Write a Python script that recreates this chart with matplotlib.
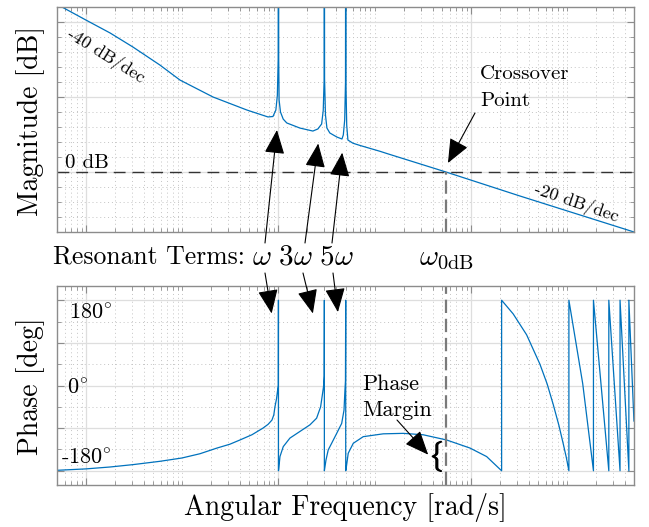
import matplotlib.pyplot as plt
import matplotlib.patheffects as pe
from matplotlib.ticker import FixedLocator, NullFormatter

plt.rcParams['font.family'] = 'cmr10'
plt.rcParams['mathtext.fontset'] = 'cm'
plt.rcParams['axes.unicode_minus'] = False

# magnitude curve (rad/s, dB)
w_mag = [0.5, 0.563, 1.0, 1.78, 3.08, 5.87, 9.48, 20.9, 47.1, 77.8, 87.7,
         94.0, 97.4, 99.4, 100, 100.6, 101.6, 105, 112, 122, 167, 228, 257, 281, 292,
         298.5, 300, 301.5, 308, 319, 342, 405, 457, 472, 488,
         497.5, 500, 502.5, 512, 527, 594, 703,
         1135, 1341, 5500, 32260, 494000]
mag_db = [112.7, 110, 101.3, 92.7, 83.3, 71.3, 61.3, 50, 41.3, 36.7, 37,
          41.3, 51, 75, 250, 75, 48, 40, 35.3, 32.7, 29.3, 27.3, 28.7, 32, 41,
          62, 250, 62, 38, 29.3, 26, 23.3, 22, 24.7, 34.7,
          60, 250, 60, 31.3, 21.3, 19.2, 17.7,
          13.8, 12.3, 0, -16, -40]

# phase curve (rad/s, deg), wrapped into +/-180
w_ph = [0.5, 1.0, 1.78, 3.08, 5.87, 9.94, 15.3, 23.0, 31.2, 39.8, 53.0, 69.0,
        78.0, 85.6, 89.5, 92.0, 95.5, 98.1, 99.8, 100,
        100, 100.5, 103.7, 112.2, 131.6, 167.2, 212.5, 249.2, 274.3, 287.7, 294, 299, 300,
        300, 301, 312, 329, 357, 403, 454, 480, 491, 497, 500,
        500, 503, 531, 599, 760, 1227, 1982, 3192, 5590, 9770, 14560, 20840,
        20840, 27500, 37900, 52100, 62000, 71600, 82000, 91000, 98000, 104200,
        104200, 145000, 187500,
        187500, 270800,
        270800, 354200,
        354200, 437500,
        437500, 494000]
phase = [-179, -176, -172, -167, -160, -153, -144, -132, -124, -115, -104, -90,
         -82, -73, -62, -45, -28, -9.5, 0, 180,
         -180, -178, -150, -129, -111, -97, -83, -69, -45, -16, -2.5, 20, 180,
         -180, -178, -157, -136, -122, -101, -80, -52, -9.5, 10, 180,
         -180, -178, -143, -122, -108, -102, -101, -104, -115, -132, -150, -180,
         180, 151, 107, 45, 3, -40, -84, -123, -152, -180,
         180, 4, -180,
         180, -180,
         180, -180,
         180, -180,
         180, -75]

w_c = 5500          # crossover frequency
pm_brace = 4385     # where the phase margin brace sits

x_major = [1, 1e2, 1e4]
x_minor = [k * 10.0**n for n in range(-1, 6) for k in range(1, 10)
           if k * 10.0**n not in x_major and 0.5 <= k * 10.0**n <= 5e5]

blue = '#0072BD'
box = '#8c8c8c'

fig = plt.figure(figsize=(6.49, 5.27), dpi=100)
ax1 = fig.add_axes([0.0878, 0.5598, 0.889, 0.4269])
ax2 = fig.add_axes([0.0878, 0.0797, 0.889, 0.3776])


def px(x, y):
    return (x / 649, 1 - y / 527)


for ax in (ax1, ax2):
    ax.set_xscale('log')
    ax.set_xlim(0.5, 4.94e5)
    ax.xaxis.set_major_locator(FixedLocator(x_major))
    ax.xaxis.set_minor_locator(FixedLocator(x_minor))
    ax.xaxis.set_major_formatter(NullFormatter())
    ax.xaxis.set_minor_formatter(NullFormatter())
    ax.set_axisbelow(True)
    ax.grid(which='major', color='#dedede', lw=0.9, ls='-')
    ax.grid(which='minor', color='#c4c4c4', lw=0.7, ls=(0, (1, 3)))
    ax.tick_params(which='both', direction='in', top=True, right=True,
                   labelbottom=False, labelleft=False, color=box)
    ax.tick_params(which='major', length=5)
    ax.tick_params(which='minor', length=3)
    for s in ax.spines.values():
        s.set_color(box)
        s.set_linewidth(1)

# magnitude
ax1.set_ylim(-40, 110)
ax1.yaxis.set_major_locator(FixedLocator([0, 50, 100]))
ax1.yaxis.set_minor_locator(FixedLocator([-30, -20, -10, 10, 20, 30, 40, 60, 70, 80, 90]))
ax1.yaxis.set_major_formatter(NullFormatter())
ax1.plot(w_mag, mag_db, color=blue, lw=0.9)
ax1.axhline(0, color='#333333', lw=1, ls=(0, (8.5, 5)))
ax1.plot([w_c, w_c], [-40, 0], color='#7a7a7a', lw=1.6, ls=(0, (6, 2.6)))

# phase
ax2.set_ylim(-210, 210)
ax2.yaxis.set_major_locator(FixedLocator([-180, -90, 0, 90, 180]))
ax2.yaxis.set_minor_locator(FixedLocator([-135, -45, 45, 135]))
ax2.yaxis.set_major_formatter(NullFormatter())
ax2.plot(w_ph, phase, color=blue, lw=0.9)
ax2.axvline(w_c, color='#7a7a7a', lw=1.6, ls=(0, (6, 2.6)))

# labels
fig.text(*px(31, 121), 'Magnitude [dB]', rotation=90, ha='center', va='center', fontsize=20)
fig.text(*px(31, 386), 'Phase [deg]', rotation=90, ha='center', va='center', fontsize=20)
fig.text(*px(345, 508), 'Angular Frequency [rad/s]', ha='center', va='center', fontsize=20)

fig.text(*px(65, 168), '0 dB', fontsize=15, va='baseline')
fig.text(*px(106, 56), '-40 dB/dec', rotation=-32, ha='center', va='center', fontsize=13)
fig.text(*px(577, 203), '-20 dB/dec', rotation=-19, ha='center', va='center', fontsize=13)
fig.text(*px(480, 74), 'Crossover', ha='left', va='center', fontsize=15)
fig.text(*px(480, 101), 'Point', ha='left', va='center', fontsize=15)

fig.text(*px(69, 313), r'$180^{\circ}$', ha='left', va='center', fontsize=16)
fig.text(*px(67, 388), r'$0^{\circ}$', ha='left', va='center', fontsize=16)
fig.text(*px(61, 458), r'-180$^{\circ}$', ha='left', va='center', fontsize=16)

fig.text(*px(53, 257), 'Resonant Terms:', ha='left', va='center', fontsize=18.5)
fig.text(*px(252, 257), r'$\omega\ 3\omega\ 5\omega$', ha='left', va='center', fontsize=21)
fig.text(*px(419, 259), r'$\omega_{0\mathrm{dB}}$', ha='left', va='center', fontsize=21)

fig.text(*px(362, 384), 'Phase', ha='left', va='center', fontsize=16)
fig.text(*px(362, 410), 'Margin', ha='left', va='center', fontsize=16)
ax2.text(pm_brace, -150, r'$\{$', ha='center', va='center', fontsize=18,
         path_effects=[pe.withStroke(linewidth=0.9, foreground='k')])

arrow = dict(arrowstyle='-|>,head_length=1.0,head_width=0.42', color='k',
             lw=0.8, shrinkA=0, shrinkB=0, mutation_scale=15)
# resonant terms -> magnitude peaks
for tip, tail in [((96.5, 28), (265, 243)), ((259, 19), (305, 243)),
                  ((460, 12.9), (332, 243))]:
    ax1.annotate('', xy=tip, xycoords='data', xytext=px(*tail),
                 textcoords='figure fraction', arrowprops=arrow)
# resonant terms -> phase peaks
for tip, tail in [((85, 152), (265, 273)), ((228, 152), (303, 273)),
                  ((415, 155), (333, 273))]:
    ax2.annotate('', xy=tip, xycoords='data', xytext=px(*tail),
                 textcoords='figure fraction', arrowprops=arrow)
ax1.annotate('', xy=(5770, 6), xytext=px(475, 113), textcoords='figure fraction',
             arrowprops=arrow)
ax2.annotate('', xy=(3597, -146), xytext=px(397, 420), textcoords='figure fraction',
             arrowprops=arrow)

fig.savefig('out.png', dpi=100)
